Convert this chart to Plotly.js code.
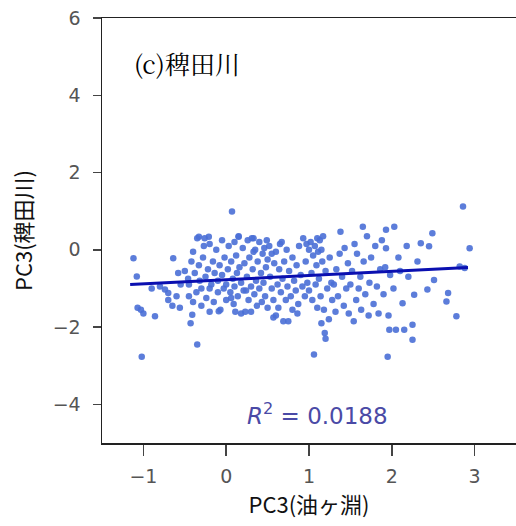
<!DOCTYPE html>
<html>
<head>
<meta charset="utf-8">
<script src="https://cdn.plot.ly/plotly-3.0.1.min.js"></script>
<style>html,body{margin:0;padding:0;background:#fff;}#chart{width:516px;height:526px;}</style>
</head>
<body>
<div id="chart"></div>
<script>
// Scatter points: PC3(油ヶ淵) vs PC3(稗田川)
const pcX = [
 -1.12,-1.08,-1.02,-1.07,-1.03,-1.00,-0.86,-0.64,-0.74,-0.70,-0.58,-0.56,-0.43,-0.41,-0.35,-0.33,-0.21,
 -0.90,-0.80,-0.60,-0.55,-0.50,-0.65,-0.70,
 -0.45,-0.45,-0.42,-0.40,-0.38,-0.36,-0.35,-0.33,-0.32,-0.30,-0.30,-0.28,-0.27,-0.25,-0.24,-0.22,-0.20,-0.20,-0.18,-0.16,-0.15,-0.14,-0.12,-0.10,-0.10,-0.08,-0.07,-0.05,-0.05,-0.03,-0.02,0.00,0.00,-0.40,-0.46,-0.20,-0.26,-0.09,
 0.07,0.15,0.33,
 0.02,0.03,0.05,0.06,0.08,0.09,0.10,0.10,0.12,0.13,0.14,0.15,0.16,0.18,0.18,0.20,0.21,0.22,0.23,0.25,0.26,0.27,0.28,0.30,0.30,0.31,0.32,0.34,0.35,0.36,0.37,0.38,0.40,0.40,0.42,0.43,0.44,0.45,0.46,0.47,0.48,0.50,0.50,0.49,0.11,0.24,0.33,0.06,
 0.52,0.53,0.55,0.55,0.57,0.58,0.60,0.60,0.62,0.63,0.64,0.65,0.66,0.68,0.69,0.70,0.72,0.73,0.74,0.75,0.76,0.78,0.80,0.80,0.82,0.84,0.85,0.87,0.88,0.90,0.92,0.93,0.95,0.96,0.97,0.98,1.00,1.00,0.57,0.67,0.86,
 1.02,1.03,1.04,1.05,1.06,1.07,1.08,1.09,1.10,1.10,1.11,1.12,1.13,1.14,1.15,1.15,1.16,1.17,1.18,1.19,1.20,1.20,1.22,1.24,1.25,1.27,1.28,1.30,1.32,1.33,1.35,1.37,1.38,1.40,1.42,1.43,1.45,1.47,1.48,1.50,
 1.52,1.54,1.55,1.57,1.58,1.60,1.62,1.63,1.65,1.66,1.68,1.70,1.72,1.73,1.75,1.78,1.80,1.82,1.84,1.86,1.88,1.90,1.92,1.93,1.93,1.95,1.96,1.97,1.98,
 2.03,2.05,2.10,2.13,2.15,2.20,2.25,2.25,2.27,2.31,2.35,2.45,2.49,2.51,2.43,2.68,2.66,2.78,2.86,2.94,2.82,2.88,2.08,2.18,2.02
];
const pcY = [
 -0.22,-0.69,-2.77,-1.50,-1.55,-1.65,-1.72,-0.22,-1.03,-1.12,-0.60,-1.50,-1.90,-1.68,-2.45,0.34,0.34,
 -1.00,-0.95,-1.20,-0.90,-0.55,-1.45,-1.30,
 -0.90,-1.20,-0.30,-0.05,-0.60,-1.10,0.30,-0.40,-0.80,-1.00,-1.45,-0.20,0.10,-0.70,-1.25,-0.50,0.15,-1.00,-0.90,-0.30,-1.35,-0.60,0.00,-0.80,-1.10,-0.40,-1.55,0.25,-0.65,-1.00,-0.20,-0.90,-1.30,-1.35,-0.75,-1.60,0.30,-1.59,
 0.99,0.34,0.30,
 -0.50,0.10,-1.10,-0.30,-0.75,-1.40,0.20,-0.95,-0.15,-0.60,-1.20,0.35,-0.45,-1.65,-0.85,0.05,-1.05,-0.35,-1.60,-0.70,0.25,-1.30,-0.20,-0.95,-1.60,0.30,-0.50,-1.15,0.00,-0.80,-1.45,-0.30,0.20,-1.00,-0.60,-1.35,-0.10,-0.85,0.05,-1.20,-0.45,-1.50,-0.25,0.25,-1.60,-1.05,-0.05,-1.25,
 0.10,-0.70,-1.00,-0.10,-1.30,-0.35,-1.70,-0.05,-0.90,-1.50,-0.50,0.15,-1.10,-0.75,-1.85,-0.30,-1.30,0.00,-0.95,-1.85,-0.55,-1.20,-0.20,-1.55,-0.80,-1.05,-0.40,-1.40,0.10,-0.65,-0.95,0.30,-1.20,-0.30,0.15,-0.85,-1.05,0.00,-1.75,0.20,-1.65,
 0.20,-0.60,-1.30,-0.15,-2.71,0.10,-0.90,-0.40,0.30,-1.50,-0.05,-0.75,0.25,-1.20,0.00,-1.90,-0.30,0.35,-1.55,-2.15,-0.55,-2.30,-1.00,-1.80,-0.20,-0.85,-1.30,-0.90,-1.60,-0.50,-1.20,-0.10,0.47,-0.70,-1.45,0.05,-1.00,-0.35,-1.65,-0.90,
 -0.55,-1.85,0.15,-1.30,-0.10,-1.00,-0.70,-1.55,0.60,-0.30,-1.15,0.35,-1.70,-0.85,-0.20,-1.40,0.10,-0.95,-1.65,-0.50,0.25,-1.15,-0.45,0.04,0.52,-2.77,-1.70,-2.07,-0.65,
 0.60,-2.07,-0.55,-1.38,-2.07,-0.70,-1.94,-2.33,-1.16,-0.30,0.17,0.09,0.43,-0.78,-1.03,-1.12,-1.34,-1.72,1.12,0.04,-0.43,-0.47,-0.20,0.10,-1.00
];
// Fitted regression line endpoints
const fitX = [-1.16, 2.92];
const fitY = [-0.90, -0.46];
const r2Label = '<i>R</i><sup>2</sup> = 0.0188';
const panelLabel = '(c)稗田川';
const xTicks = [-1, 0, 1, 2, 3];
const yTicks = [-4, -2, 0, 2, 4, 6];

const tickFont = {family: 'DejaVu Sans', size: 19, color: '#555'};
const titleFont = {family: 'Noto Sans CJK JP', size: 22, color: '#111'};
const fmt = v => v < 0 ? '\u2212' + Math.abs(v) : String(v);
Plotly.newPlot('chart', [
  {x: pcX, y: pcY, type: 'scatter', mode: 'markers',
   marker: {color: '#4a6fd6', size: 6.5, opacity: 0.9}, hoverinfo: 'none'},
  {x: fitX, y: fitY, type: 'scatter', mode: 'lines',
   line: {color: '#0a0fb0', width: 3}, hoverinfo: 'none'}
], {
  width: 516, height: 526,
  margin: {l: 102, r: 0, t: 18, b: 83},
  paper_bgcolor: '#fff', plot_bgcolor: '#fff',
  showlegend: false,
  font: {family: 'Noto Sans CJK JP', color: '#000'},
  xaxis: {range: [-1.5, 3.5], tickvals: xTicks, ticktext: xTicks.map(fmt),
    showgrid: false, zeroline: false, showline: true, mirror: true, linecolor: '#222', linewidth: 1.5,
    ticks: 'outside', ticklen: 11, tickwidth: 1.5, tickcolor: '#444', tickfont: tickFont, ticklabelstandoff: 5,
    title: {text: 'PC3(油ヶ淵)', font: titleFont, standoff: 4}},
  yaxis: {range: [-5, 6], tickvals: yTicks, ticktext: yTicks.map(fmt),
    showgrid: false, zeroline: false, showline: true, mirror: false, linecolor: '#222', linewidth: 1.5,
    ticks: 'outside', ticklen: 8, tickwidth: 1.5, tickcolor: '#444', tickfont: tickFont, ticklabelstandoff: 8,
    title: {text: 'PC3(稗田川)', font: titleFont, standoff: 14}},
  annotations: [
    {x: -1.14, y: 4.83, xref: 'x', yref: 'y', text: panelLabel, showarrow: false, xanchor: 'left', yanchor: 'middle',
     font: {family: 'Noto Serif CJK JP, Noto Sans CJK JP', size: 25, color: '#000'}},
    {x: 1.1, y: -4.26, xref: 'x', yref: 'y', text: r2Label, showarrow: false, xanchor: 'center', yanchor: 'middle',
     font: {family: 'DejaVu Sans', size: 23, color: '#4a4aa6'}}
  ]
}, {staticPlot: true});
</script>
</body>
</html>
